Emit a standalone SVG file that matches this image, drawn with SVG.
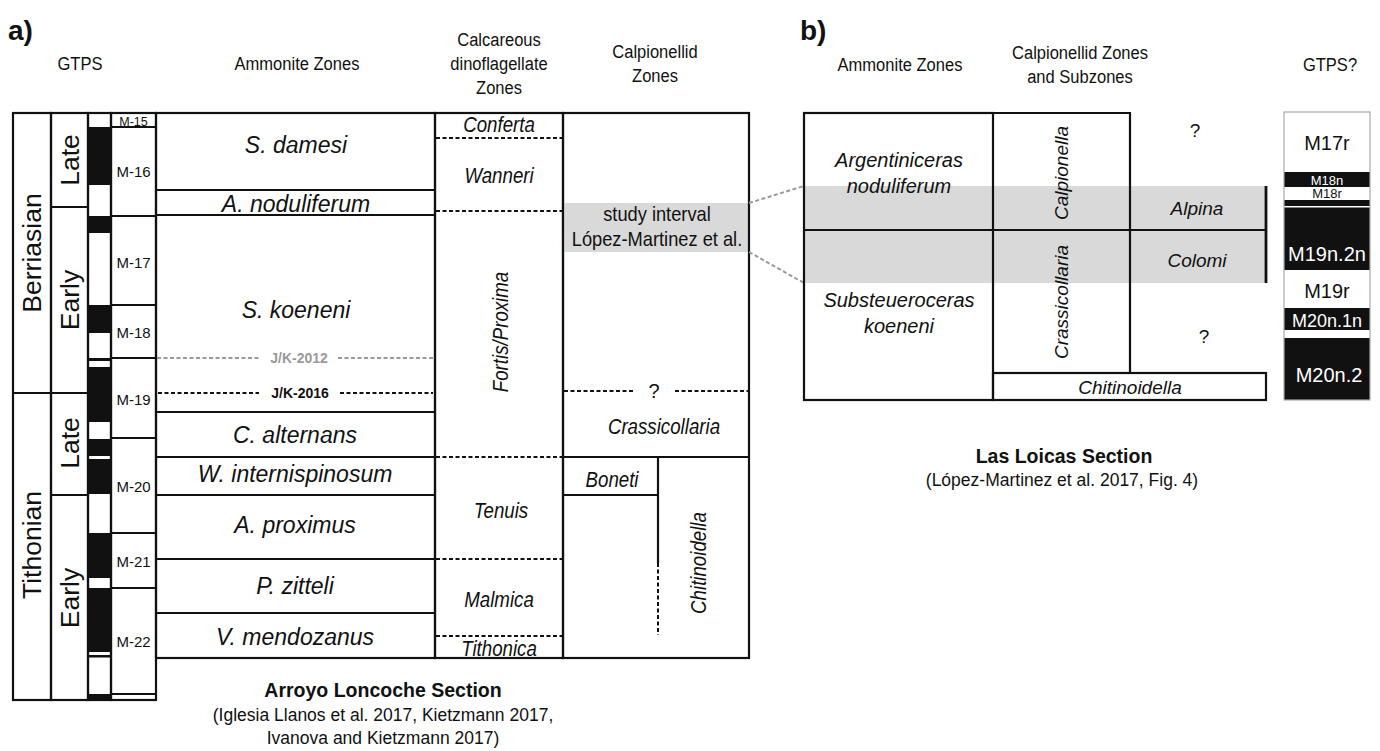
<svg xmlns="http://www.w3.org/2000/svg" width="1380" height="751" viewBox="0 0 1380 751">
<style>
text{font-family:"Liberation Sans",Arial,sans-serif;fill:#111}
.nar{transform:scaleX(0.87);transform-box:fill-box;transform-origin:center}
.hd{font-size:19px;text-anchor:middle}
.lbl{font-size:28px;font-weight:bold}
.ln{stroke:#111;stroke-width:2.2;fill:none}
.dsh{stroke:#111;stroke-width:2;stroke-dasharray:4 2.5;fill:none}
.dshg{stroke:#999;stroke-width:2;stroke-dasharray:4 2.5;fill:none}
.amm{font-size:23px;font-style:italic;text-anchor:middle}
.it{font-size:19px;font-style:italic;text-anchor:middle}
.itn{font-size:21.5px;font-style:italic;text-anchor:middle}
.ib{font-size:20px;font-style:italic;text-anchor:middle}
.age{font-size:26.5px;text-anchor:middle}
.mz{font-size:15px;text-anchor:middle}
.jk{font-size:14px;font-weight:bold;text-anchor:middle}
.rg{font-size:21px;text-anchor:middle}
.ttl{font-size:19.5px;font-weight:bold;text-anchor:middle}
.cit{font-size:17.5px;text-anchor:middle}
.gt{font-size:20px;text-anchor:middle}
.gs{font-size:13px;text-anchor:middle}
.band{fill:#d9d9d9}
.blk{fill:#111}
.wt{fill:#fff}
</style>
<rect width="1380" height="751" fill="#fff"/>

<!-- ===== Section a ===== -->
<g id="panel-a-labels">
  <text class="lbl" x="8" y="40">a)</text>
  <text class="hd nar" x="80" y="70">GTPS</text>
  <text class="hd nar" x="297" y="70">Ammonite Zones</text>
  <text class="hd nar" x="499" y="46">Calcareous</text>
  <text class="hd nar" x="499" y="70">dinoflagellate</text>
  <text class="hd nar" x="499" y="94">Zones</text>
  <text class="hd nar" x="655" y="58">Calpionellid</text>
  <text class="hd nar" x="655" y="82">Zones</text>
</g>

<g id="stage-column">
  <rect class="ln" x="13" y="113" width="38" height="587"/>
  <line class="ln" x1="13" y1="393" x2="51" y2="393"/>
  <text class="age" transform="rotate(-90 32 253)" x="32" y="262">Berriasian</text>
  <text class="age" transform="rotate(-90 32 545)" x="32" y="554">Tithonian</text>
</g>

<g id="substage-column">
  <rect class="ln" x="51" y="113" width="37" height="587"/>
  <line class="ln" x1="51" y1="207" x2="88" y2="207"/>
  <line class="ln" x1="51" y1="393" x2="88" y2="393"/>
  <line class="ln" x1="51" y1="495" x2="88" y2="495"/>
  <text class="age" transform="rotate(-90 70 160)" x="70" y="169">Late</text>
  <text class="age" transform="rotate(-90 70 300)" x="70" y="309">Early</text>
  <text class="age" transform="rotate(-90 70 443)" x="70" y="452">Late</text>
  <text class="age" transform="rotate(-90 70 598)" x="70" y="607">Early</text>
</g>

<g id="polarity-column">
  <rect class="blk" x="88" y="127" width="23" height="58"/>
  <rect class="blk" x="88" y="216" width="23" height="17"/>
  <rect class="blk" x="88" y="305" width="23" height="28"/>
  <rect class="blk" x="88" y="358" width="23" height="3"/>
  <rect class="blk" x="88" y="367" width="23" height="55"/>
  <rect class="blk" x="88" y="439" width="23" height="17"/>
  <rect class="blk" x="88" y="459" width="23" height="35"/>
  <rect class="blk" x="88" y="533" width="23" height="45"/>
  <rect class="blk" x="88" y="588" width="23" height="64"/>
  <rect class="blk" x="88" y="655" width="23" height="2.5"/>
  <rect class="blk" x="88" y="694" width="23" height="6"/>
  <rect class="ln" x="88" y="113" width="23" height="587"/>
</g>

<g id="magnetozone-column">
  <rect class="ln" x="111" y="113" width="45" height="587"/>
  <line class="ln" x1="111" y1="127" x2="156" y2="127"/>
  <line class="ln" x1="111" y1="216" x2="156" y2="216"/>
  <line class="ln" x1="111" y1="305" x2="156" y2="305"/>
  <line class="ln" x1="111" y1="358" x2="156" y2="358"/>
  <line class="ln" x1="111" y1="438" x2="156" y2="438"/>
  <line class="ln" x1="111" y1="533" x2="156" y2="533"/>
  <line class="ln" x1="111" y1="588" x2="156" y2="588"/>
  <line class="ln" x1="111" y1="694" x2="156" y2="694"/>
  <text class="mz" x="133.5" y="125.5" style="font-size:12.5px">M-15</text>
  <text class="mz" x="133.5" y="177">M-16</text>
  <text class="mz" x="133.5" y="268">M-17</text>
  <text class="mz" x="133.5" y="338">M-18</text>
  <text class="mz" x="133.5" y="405">M-19</text>
  <text class="mz" x="133.5" y="492">M-20</text>
  <text class="mz" x="133.5" y="567">M-21</text>
  <text class="mz" x="133.5" y="647">M-22</text>
</g>

<g id="ammonite-zones-a">
  <rect class="ln" x="156" y="113" width="279" height="545"/>
  <line class="ln" x1="156" y1="190" x2="435" y2="190"/>
  <line class="ln" x1="156" y1="215" x2="435" y2="215"/>
  <line class="ln" x1="156" y1="412" x2="435" y2="412"/>
  <line class="ln" x1="156" y1="457" x2="435" y2="457"/>
  <line class="ln" x1="156" y1="495" x2="435" y2="495"/>
  <line class="ln" x1="156" y1="559" x2="435" y2="559"/>
  <line class="ln" x1="156" y1="613" x2="435" y2="613"/>
  <text class="amm" x="296" y="153">S. damesi</text>
  <text class="amm" x="296" y="212">A. noduliferum</text>
  <text class="amm" x="296" y="318">S. koeneni</text>
  <text class="amm" x="295" y="443">C. alternans</text>
  <text class="amm" x="295" y="482">W. internispinosum</text>
  <text class="amm" x="295" y="533">A. proximus</text>
  <text class="amm" x="295" y="594">P. zitteli</text>
  <text class="amm" x="295" y="645">V. mendozanus</text>
</g>

<g id="jk-boundaries">
  <line class="dshg" x1="157" y1="358" x2="259" y2="358"/>
  <line class="dshg" x1="338" y1="358" x2="434" y2="358"/>
  <text class="jk" x="299" y="363" style="fill:#999">J/K-2012</text>
  <line class="dsh" x1="158" y1="393" x2="259" y2="393"/>
  <line class="dsh" x1="340" y1="393" x2="433" y2="393"/>
  <text class="jk" x="300" y="398">J/K-2016</text>
</g>

<g id="dinoflagellate-zones">
  <rect class="ln" x="435" y="113" width="128" height="545"/>
  <line class="dsh" x1="436" y1="138" x2="562" y2="138"/>
  <line class="dsh" x1="436" y1="211" x2="562" y2="211"/>
  <line class="dsh" x1="436" y1="457" x2="562" y2="457"/>
  <line class="dsh" x1="436" y1="559" x2="562" y2="559"/>
  <line class="dsh" x1="436" y1="636" x2="562" y2="636"/>
  <text class="itn nar" x="499" y="132">Conferta</text>
  <text class="itn nar" x="499" y="183">Wanneri</text>
  <text class="itn" transform="translate(500 332) rotate(-90) scale(0.87 1)" x="0" y="7.5">Fortis/Proxima</text>
  <text class="itn nar" x="501" y="518">Tenuis</text>
  <text class="itn nar" x="499" y="607">Malmica</text>
  <text class="itn nar" x="499" y="656">Tithonica</text>
</g>

<g id="calpionellid-zones-a">
  <rect class="band" x="564" y="203" width="185" height="49"/>
  <rect class="ln" x="563" y="113" width="186" height="545"/>
  <line class="dsh" x1="564" y1="391" x2="633" y2="391"/>
  <line class="dsh" x1="675" y1="391" x2="748" y2="391"/>
  <text class="it" x="654" y="398" style="font-style:normal;font-size:20px">?</text>
  <line class="ln" x1="563" y1="457" x2="749" y2="457"/>
  <line class="ln" x1="563" y1="495" x2="658" y2="495"/>
  <line class="ln" x1="658" y1="457" x2="658" y2="563"/>
  <line class="dsh" x1="658" y1="563" x2="658" y2="635"/>
  <text class="rg nar" x="657" y="221">study interval</text>
  <text class="rg nar" x="657" y="246">López-Martinez et al.</text>
  <text class="itn nar" x="664" y="434">Crassicollaria</text>
  <text class="itn nar" x="612" y="487">Boneti</text>
  <text class="itn" transform="translate(698 563) rotate(-90) scale(0.87 1)" x="0" y="7.5">Chitinoidella</text>
</g>

<g id="caption-a">
  <text class="ttl" x="383" y="697">Arroyo Loncoche Section</text>
  <text class="cit" x="383" y="721">(Iglesia Llanos et al. 2017, Kietzmann 2017,</text>
  <text class="cit" x="383" y="744">Ivanova and Kietzmann 2017)</text>
</g>

<!-- ===== Connectors ===== -->
<g id="connectors">
  <line class="dshg" x1="749" y1="203" x2="804" y2="186"/>
  <line class="dshg" x1="749" y1="252" x2="804" y2="283"/>
</g>

<!-- ===== Section b ===== -->
<g id="panel-b-labels">
  <text class="lbl" x="800" y="40">b)</text>
  <text class="hd nar" x="900" y="71">Ammonite Zones</text>
  <text class="hd nar" x="1080" y="59">Calpionellid Zones</text>
  <text class="hd nar" x="1080" y="83">and Subzones</text>
  <text class="hd nar" x="1330" y="71">GTPS?</text>
</g>

<g id="study-band-b">
  <rect class="band" x="804" y="186" width="462" height="97"/>
</g>

<g id="ammonite-zones-b">
  <rect class="ln" x="804" y="113" width="189" height="287"/>
  <line class="ln" x1="804" y1="230" x2="1266" y2="230"/>
  <text class="ib" x="899" y="167">Argentiniceras</text>
  <text class="ib" x="899" y="193">noduliferum</text>
  <text class="ib" x="899" y="307">Substeueroceras</text>
  <text class="ib" x="899" y="333">koeneni</text>
</g>

<g id="calpionellid-zones-b">
  <polyline class="ln" points="993,113 1130,113 1130,373"/>
  <rect class="ln" x="993" y="373" width="273" height="27"/>
  <line class="ln" x1="1266" y1="186" x2="1266" y2="283" style="stroke-width:2.8"/>
  <text class="it" transform="rotate(-90 1061 173)" x="1061" y="180">Calpionella</text>
  <text class="it" transform="rotate(-90 1061 302)" x="1061" y="309">Crassicollaria</text>
  <text class="it" x="1130" y="394">Chitinoidella</text>
  <text class="it" x="1197" y="215">Alpina</text>
  <text class="it" x="1197" y="267">Colomi</text>
  <text class="it" x="1195" y="137" style="font-style:normal">?</text>
  <text class="it" x="1204" y="343" style="font-style:normal">?</text>
</g>

<g id="gtps-b">
  <rect class="blk" x="1284" y="172" width="86" height="15"/>
  <rect class="blk" x="1284" y="200" width="86" height="6"/>
  <rect class="blk" x="1284" y="207.5" width="86" height="62.5"/>
  <rect class="blk" x="1284" y="308" width="86" height="22"/>
  <rect class="blk" x="1284" y="338" width="86" height="62"/>
  <rect x="1284" y="112" width="86" height="288" fill="none" stroke="#aaa" stroke-width="1.2"/>
  <text class="gt" x="1327" y="150">M17r</text>
  <text class="gs wt" x="1327" y="185">M18n</text>
  <text class="gs" x="1327" y="198">M18r</text>
  <text class="gt wt" x="1327" y="261">M19n.2n</text>
  <text class="gt" x="1327" y="298">M19r</text>
  <text class="gt wt" x="1327" y="327" style="font-size:18px">M20n.1n</text>
  <text class="gt wt" x="1329" y="382">M20n.2</text>
</g>

<g id="caption-b">
  <text class="ttl" x="1064" y="463">Las Loicas Section</text>
  <text class="cit" x="1062" y="486">(López-Martinez et al. 2017, Fig. 4)</text>
</g>
</svg>
